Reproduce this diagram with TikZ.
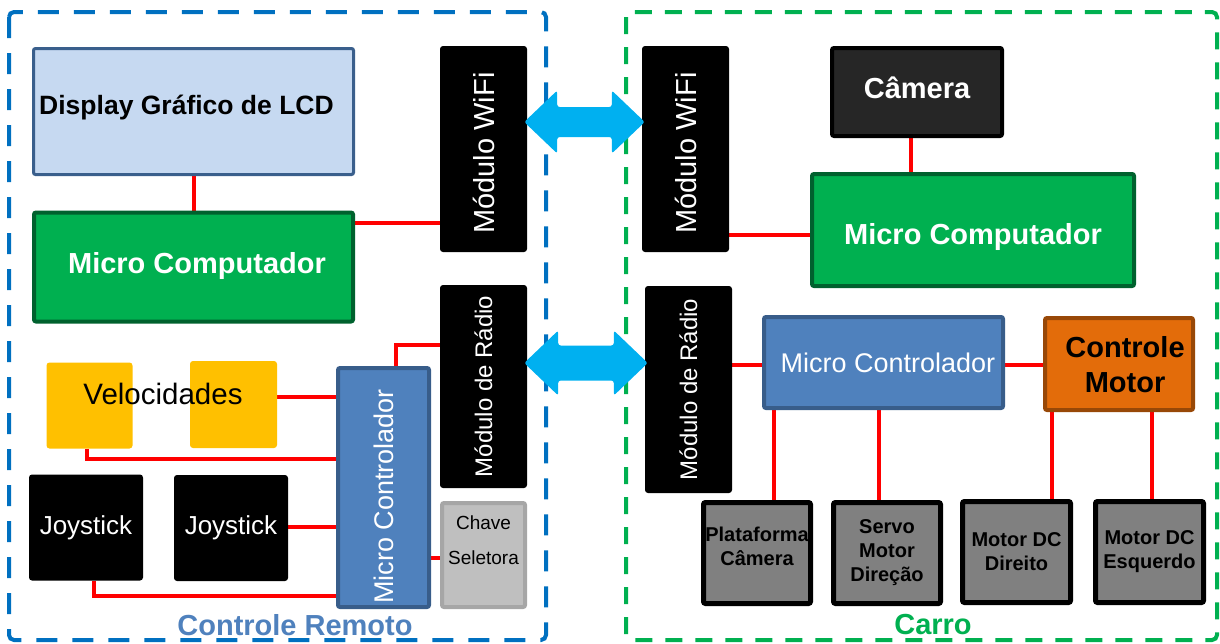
\documentclass[tikz,border=0pt]{standalone}
\usepackage{fontspec}
\setmainfont{Liberation Sans}
\usetikzlibrary{calc,backgrounds}

\definecolor{lcdfill}{HTML}{C6D9F1}
\definecolor{lcdline}{HTML}{3A5F8C}
\definecolor{pcfill}{HTML}{00B050}
\definecolor{pcline}{HTML}{00612E}
\definecolor{mcufill}{HTML}{4F81BD}
\definecolor{mculine}{HTML}{385D8A}
\definecolor{knob}{HTML}{FFC000}
\definecolor{swfill}{HTML}{BFBFBF}
\definecolor{swline}{HTML}{A6A6A6}
\definecolor{camfill}{HTML}{262626}
\definecolor{drvfill}{HTML}{E36C0A}
\definecolor{drvline}{HTML}{984807}
\definecolor{actfill}{HTML}{808080}
\definecolor{wirered}{HTML}{FF0000}
\definecolor{linkcyan}{HTML}{00B0F0}
\definecolor{remblue}{HTML}{0070C0}
\definecolor{remtext}{HTML}{4F81BD}
\definecolor{cargreen}{HTML}{00B050}

\newcommand\fsz[2]{\fontsize{#1}{#2}\selectfont}
% one line of text whose capitals are centred #1 above the node centre
\newcommand\capat[2]{\raisebox{\dimexpr#1-0.358em\relax}[0pt][0pt]{#2}}
% a stack of lines whose box centre is raised by #1 above the math axis
\newcommand\liftrows[2]{\raisebox{#1}[0pt][0pt]{\begin{tabular}{@{}c@{}}#2\end{tabular}}}

\tikzset{
  blockbase/.style={inner sep=0pt, align=center},
  lcdbox/.style={blockbase, fill=lcdfill, draw=lcdline, line width=3pt, rounded corners=2pt,
    font=\bfseries\fsz{26.5}{30}},
  pcbox/.style={blockbase, fill=pcfill, draw=pcline, line width=4pt, rounded corners=2pt,
    text=white, font=\bfseries\fsz{29}{34}},
  modbox/.style={blockbase, fill=black, rounded corners=3pt, text=white},
  knobbox/.style={blockbase, fill=knob, rounded corners=3pt},
  joybox/.style={blockbase, fill=black, rounded corners=3pt, text=white, font=\fsz{26}{30}},
  mcubox/.style={blockbase, fill=mcufill, draw=mculine, line width=4pt, rounded corners=2pt,
    text=white, font=\fsz{27}{31}},
  swbox/.style={blockbase, fill=swfill, draw=swline, line width=4pt, rounded corners=2pt,
    font=\fsz{19}{35}},
  cambox/.style={blockbase, fill=camfill, draw=black, line width=4pt, rounded corners=2pt,
    text=white, font=\bfseries\fsz{29}{33}},
  drvbox/.style={blockbase, fill=drvfill, draw=drvline, line width=4pt, rounded corners=2pt,
    font=\bfseries\fsz{29}{35}},
  actbox/.style={blockbase, fill=actfill, draw=black, line width=5pt, rounded corners=2pt,
    font=\bfseries\fsz{20}{24}},
  wire/.style={draw=wirered, line width=4pt},
  linkarrow/.style={fill=linkcyan, rounded corners=2.5pt},
  groupframe/.style={line width=4pt, rounded corners=5pt},
  grouplabel/.style={inner sep=0pt, font=\bfseries\fsz{29}{33}}
}

\begin{document}
\begin{tikzpicture}[x=1pt,y=-1pt]
\useasboundingbox (0,0) rectangle (1220,643);

% group frames
\draw[groupframe, remblue, dash pattern=on 21pt off 15pt] (9,12) rectangle (546,640);
\draw[groupframe, cargreen, dash pattern=on 17pt off 13pt] (626,12) rectangle (1217,640);

% ---- remote control ----
\node[lcdbox, minimum width=320pt, minimum height=126pt] (lcd) at (193.5,111.5)
  {\capat{6.5pt}{Display Gráfico de LCD}\hspace*{14pt}};
\node[pcbox, minimum width=319pt, minimum height=109pt] (pcl) at (193.5,267)
  {\hspace*{7pt}\capat{4pt}{Micro Computador}};
\node[modbox, minimum width=87pt, minimum height=206pt, font=\fsz{29}{33}] (wifil) at (483.5,149)
  {\rotatebox{90}{Módulo WiFi\kern8pt}};
\node[modbox, minimum width=87pt, minimum height=203pt, font=\fsz{24}{28}] (radiol) at (483.5,386.5)
  {\rotatebox{90}{Módulo de Rádio}};
\node[knobbox, minimum width=86pt, minimum height=86pt] (vel1) at (89.5,405.5) {};
\node[knobbox, minimum width=87pt, minimum height=87pt] (vel2) at (233.5,404.5) {};
\node[inner sep=0pt, font=\fsz{29.5}{33}] (veltxt) at (163,394) {Velocidades};
\node[joybox, minimum width=114pt, minimum height=106pt] (joy1) at (86,527.5) {Joystick};
\node[joybox, minimum width=114pt, minimum height=106pt] (joy2) at (231,528) {Joystick};
\node[mcubox, minimum width=91pt, minimum height=239pt] (mcul) at (383.5,487.5)
  {\rotatebox{90}{Micro Controlador\kern18pt}};
\node[swbox, minimum width=83pt, minimum height=104pt] (chave) at (483.5,555)
  {\liftrows{11pt}{Chave\\Seletora}};

% ---- car ----
\node[modbox, minimum width=87pt, minimum height=206pt, font=\fsz{29}{33}] (wifir) at (685.5,149)
  {\rotatebox{90}{Módulo WiFi\kern8pt}};
\node[cambox, minimum width=170pt, minimum height=88pt] (cam) at (917,92)
  {\capat{4pt}{Câmera}};
\node[pcbox, minimum width=322pt, minimum height=112pt] (pcr) at (973,230)
  {\capat{-4pt}{Micro Computador}};
\node[modbox, minimum width=87pt, minimum height=207pt, font=\fsz{24}{28}] (radior) at (688.5,389.5)
  {\rotatebox{90}{Módulo de Rádio}};
\node[mcubox, minimum width=239pt, minimum height=91pt] (mcur) at (883.5,362.5)
  {\capat{0pt}{Micro Controlador}\hspace*{-9pt}};
\node[drvbox, minimum width=148pt, minimum height=92pt] (drv) at (1119,364)
  {\hspace*{12pt}\liftrows{-10.5pt}{Controle\\Motor}};
\node[actbox, minimum width=107pt, minimum height=101pt] (plat) at (757,553)
  {\liftrows{-1pt}{Plataforma\\Câmera}};
\node[actbox, minimum width=107pt, minimum height=101pt] (servo) at (887,553)
  {Servo\\Motor\\Direção};
\node[actbox, minimum width=108pt, minimum height=101pt] (mdir) at (1016.5,552)
  {Motor DC\\Direito};
\node[actbox, minimum width=108pt, minimum height=101pt] (mesq) at (1149.5,552)
  {Motor DC\\Esquerdo};

% group captions
\node[grouplabel, text=remtext] (lblrem) at (295,625) {Controle Remoto};
\node[grouplabel, text=cargreen] (lblcar) at (933,625) {Carro};

% ---- wiring ----
\begin{scope}[on background layer]
\draw[wire] (lcd.south) -- (pcl.north);
\draw[wire] (pcl.east |- 0,223) -- (wifil.west |- 0,223);
\draw[wire] (vel2.east |- 0,397) -- (mcul.west |- 0,397);
\draw[wire] (vel1.south -| 87,0) |- (mcul.west |- 0,459);
\draw[wire] (joy2.east |- 0,527) -- (mcul.west |- 0,527);
\draw[wire] (joy1.south -| 94,0) |- (mcul.west |- 0,596);
\draw[wire] (mcul.north -| 396,0) |- (radiol.west |- 0,345);
\draw[wire] (mcul.east |- 0,558) -- (chave.west |- 0,558);

\draw[wire] (wifir.east |- 0,235) -- (pcr.west |- 0,235);
\draw[wire] (cam.south -| 911,0) -- (pcr.north -| 911,0);
\draw[wire] (radior.east |- 0,365) -- (mcur.west |- 0,365);
\draw[wire] (mcur.east |- 0,365) -- (drv.west |- 0,365);
\draw[wire] (mcur.south -| 774,0) -- (plat.north -| 774,0);
\draw[wire] (mcur.south -| 879,0) -- (servo.north -| 879,0);
\draw[wire] (drv.south -| 1052,0) -- (mdir.north -| 1052,0);
\draw[wire] (drv.south -| 1152,0) -- (mesq.north -| 1152,0);
\end{scope}

% ---- wireless links (double-headed block arrows) ----
\coordinate (wa) at ([xshift=-3pt]wifil.east |- 0,122);
\coordinate (wb) at ([xshift=3pt]wifir.west |- 0,122);
\fill[linkarrow] (wa) -- ++(33,-31.5) -- ++(0,16.5) -- ($(wb)+(-33,-15)$) -- ++(0,-16.5) -- (wb)
  -- ++(-33,31.5) -- ++(0,-16.5) -- ($(wa)+(33,15)$) -- ++(0,16.5) -- cycle;
\coordinate (ra) at ([xshift=-3pt]radiol.east |- 0,363);
\coordinate (rb) at ([xshift=3pt]radior.west |- 0,363);
\fill[linkarrow] (ra) -- ++(34,-32.5) -- ++(0,15) -- ($(rb)+(-34,-17.5)$) -- ++(0,-15) -- (rb)
  -- ++(-34,32.5) -- ++(0,-15) -- ($(ra)+(34,17.5)$) -- ++(0,15) -- cycle;
\end{tikzpicture}
\end{document}
